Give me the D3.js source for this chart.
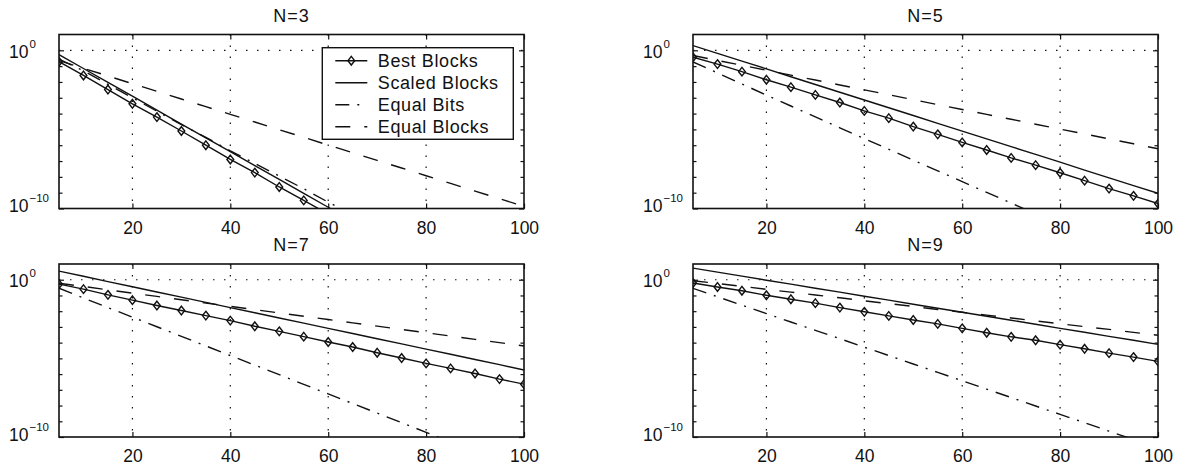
<!DOCTYPE html>
<html>
<head>
<meta charset="utf-8">
<script src="https://cdn.jsdelivr.net/npm/d3@7"></script>
<style>
  body { margin: 0; background: #fff; }
  text { font-family: "Liberation Sans", Arial, sans-serif; fill: #111; }
</style>
</head>
<body>
<svg id="chart" width="1188" height="470"></svg>
<script>
// x positions of the samples (block length)
var xValues = [5, 10, 15, 20, 25, 30, 35, 40, 45, 50, 55, 60, 65, 70, 75, 80, 85, 90, 95, 100];
var panelTitles = ["N=3", "N=5", "N=7", "N=9"];
var seriesNames = ["Best Blocks", "Scaled Blocks", "Equal Bits", "Equal Blocks"];

// values are log10 of the plotted quantity
var bestBlocks = [
  [-0.72, -1.59, -2.48, -3.38, -4.22, -5.10, -6.00, -6.90, -7.73, -8.64, -9.49, -10.35],
  [-0.44, -0.87, -1.35, -1.86, -2.33, -2.82, -3.30, -3.83, -4.29, -4.82, -5.31, -5.82, -6.30, -6.80, -7.26, -7.74, -8.24, -8.74, -9.20, -9.69],
  [-0.28, -0.60, -0.96, -1.30, -1.64, -1.96, -2.28, -2.60, -2.96, -3.28, -3.62, -3.96, -4.28, -4.64, -4.98, -5.32, -5.64, -5.96, -6.32, -6.64],
  [-0.21, -0.46, -0.70, -0.99, -1.24, -1.49, -1.77, -2.04, -2.30, -2.56, -2.81, -3.09, -3.37, -3.63, -3.85, -4.13, -4.39, -4.67, -4.92, -5.19]
];
var scaledBlocks = [
  [-0.27, -1.15, -2.02, -2.90, -3.78, -4.66, -5.53, -6.41, -7.29, -8.16, -9.04, -9.92, -10.79],
  [0.30, -0.19, -0.68, -1.17, -1.67, -2.16, -2.65, -3.14, -3.63, -4.12, -4.62, -5.11, -5.60, -6.09, -6.58, -7.07, -7.57, -8.06, -8.55, -9.04],
  [0.55, 0.22, -0.12, -0.45, -0.78, -1.11, -1.44, -1.77, -2.10, -2.43, -2.76, -3.09, -3.42, -3.75, -4.08, -4.41, -4.74, -5.07, -5.40, -5.74],
  [0.74, 0.48, 0.23, -0.03, -0.28, -0.54, -0.79, -1.05, -1.30, -1.56, -1.81, -2.07, -2.32, -2.58, -2.83, -3.09, -3.34, -3.60, -3.85, -4.11]
];
var equalBits = [
  [-0.55, -1.30, -2.15, -3.00, -3.85, -4.70, -5.50, -6.35, -7.15, -7.95, -8.75, -9.60, -10.40],
  [-0.73, -1.43, -2.13, -2.83, -3.52, -4.21, -4.90, -5.58, -6.26, -6.94, -7.62, -8.30, -8.98, -9.66, -10.34],
  [-0.54, -1.16, -1.77, -2.38, -2.99, -3.60, -4.21, -4.82, -5.43, -6.04, -6.65, -7.26, -7.87, -8.48, -9.09, -9.70, -10.31],
  [-0.55, -1.08, -1.62, -2.15, -2.69, -3.22, -3.75, -4.29, -4.82, -5.36, -5.89, -6.42, -6.96, -7.49, -8.03, -8.56, -9.09, -9.63, -10.16]
];
var equalBlocks = [
  [-0.65, -1.14, -1.62, -2.11, -2.59, -3.08, -3.56, -4.05, -4.53, -5.02, -5.50, -5.99, -6.47, -6.96, -7.44, -7.93, -8.41, -8.90, -9.38, -9.87],
  [-0.33, -0.64, -0.95, -1.26, -1.57, -1.88, -2.19, -2.50, -2.81, -3.12, -3.43, -3.74, -4.05, -4.36, -4.67, -4.98, -5.29, -5.60, -5.91, -6.22],
  [-0.22, -0.43, -0.64, -0.85, -1.06, -1.27, -1.48, -1.69, -1.90, -2.11, -2.32, -2.53, -2.74, -2.95, -3.16, -3.37, -3.58, -3.79, -4.00, -4.21],
  [-0.06, -0.24, -0.42, -0.61, -0.79, -0.97, -1.15, -1.34, -1.52, -1.70, -1.89, -2.07, -2.25, -2.43, -2.62, -2.80, -2.98, -3.16, -3.35, -3.53]
];

var xTicks = [20, 40, 60, 80, 100];
var yMajorTicks = [1e-10, 1e0];
var yMajorExp = ["\u221210", "0"];
var yMinorExp = [-9, -8, -7, -6, -5, -4, -3, -2, -1];

var panels = [
  {left: 59, top: 34.5, width: 465, height: 174},
  {left: 693, top: 34.5, width: 465, height: 174},
  {left: 59, top: 264, width: 465, height: 173},
  {left: 693, top: 264, width: 465, height: 173}
];

var ink = "#111";
var styles = [
  {dash: null, marker: true},
  {dash: null, marker: false},
  {dash: "14,8,2,8", marker: false},
  {dash: "15,14", marker: false}
];
var diamond = "M0,-4.3L3.4,0L0,4.3L-3.4,0Z";

var svg = d3.select("#chart");

function drawPanel(i) {
    var p = panels[i];
    var g = svg.append("g")
            .attr("transform", "translate(" + p.left + "," + p.top + ")");

    var x = d3.scaleLinear().domain([5, 100]).range([0, p.width]);
    var y = d3.scaleLog().domain([1e-10, 1e1]).range([p.height, 0]);

    // dotted grid
    g.selectAll(".vgrid")
            .data(xTicks.filter(function (d) { return d < 100; }))
            .enter().append("line")
            .attr("x1", function (d) { return x(d); })
            .attr("x2", function (d) { return x(d); })
            .attr("y1", 0).attr("y2", p.height)
            .attr("stroke", ink).attr("stroke-width", 1.2)
            .attr("stroke-dasharray", "1.5,9.5");
    g.append("line")
            .attr("x1", 0).attr("x2", p.width)
            .attr("y1", y(1)).attr("y2", y(1))
            .attr("stroke", ink).attr("stroke-width", 1.2)
            .attr("stroke-dasharray", "1.5,9.5");

    // ticks (inward)
    g.append("g").attr("transform", "translate(0," + p.height + ")")
            .call(d3.axisBottom(x).tickValues(xTicks).tickSize(-5).tickPadding(13))
            .call(function (a) {
                a.select(".domain").remove();
                a.selectAll("text").style("font-size", "17.5px")
                        .style("font-family", "Liberation Sans, Arial, sans-serif")
                        .attr("fill", ink);
                a.selectAll("line").attr("stroke", ink).attr("stroke-width", 1.2);
            });
    g.append("g")
            .call(d3.axisTop(x).tickValues(xTicks).tickSize(-5).tickFormat(""))
            .call(function (a) {
                a.select(".domain").remove();
                a.selectAll("line").attr("stroke", ink).attr("stroke-width", 1.2);
            });

    var minor = yMinorExp.map(function (e) { return Math.pow(10, e); });
    [d3.axisLeft, d3.axisRight].forEach(function (ax, k) {
        var shift = k === 0 ? 0 : p.width;
        g.append("g").attr("transform", "translate(" + shift + ",0)")
                .call(ax(y).tickValues(minor).tickSize(-3.5).tickFormat(""))
                .call(function (a) { a.select(".domain").remove(); a.selectAll("line").attr("stroke", ink).attr("stroke-width", 1.2); });
        g.append("g").attr("transform", "translate(" + shift + ",0)")
                .call(ax(y).tickValues(yMajorTicks).tickSize(-5).tickFormat(""))
                .call(function (a) { a.select(".domain").remove(); a.selectAll("line").attr("stroke", ink).attr("stroke-width", 1.2); });
    });

    // y labels 10^e
    yMajorTicks.forEach(function (t, k) {
        var base = y(t) + (t === 1e-10 ? 3.5 : 7.5);
        var lab = g.append("text")
                .attr("x", -50).attr("y", base)
                .style("font-size", "17.5px");
        lab.append("tspan").text("10");
        lab.append("tspan").attr("dx", 1).attr("dy", -10)
                .style("font-size", "11.5px").text(yMajorExp[k]);
    });

    // title
    g.append("text")
            .attr("x", p.width / 2).attr("y", -12.8)
            .attr("text-anchor", "middle")
            .style("font-size", "18px").style("letter-spacing", "1px")
            .text(panelTitles[i]);

    // clip region
    g.append("clipPath").attr("id", "clip" + i)
            .append("rect").attr("width", p.width).attr("height", p.height);

    var line = d3.line()
            .x(function (d) { return x(d[0]); })
            .y(function (d) { return y(Math.pow(10, d[1])); });

    var series = [bestBlocks[i], scaledBlocks[i], equalBits[i], equalBlocks[i]];
    var plot = g.append("g").attr("clip-path", "url(#clip" + i + ")");
    series.forEach(function (vals, s) {
        var pts = vals.map(function (v, j) { return [xValues[j], v]; });
        plot.append("path")
                .attr("d", line(pts))
                .attr("fill", "none")
                .attr("stroke", ink)
                .attr("stroke-width", 1.4)
                .attr("stroke-dasharray", styles[s].dash);
        if (styles[s].marker) {
            plot.selectAll(".mk" + s)
                    .data(pts.filter(function (d) { return d[1] >= -10; }))
                    .enter().append("path")
                    .attr("d", diamond)
                    .attr("transform", function (d) {
                        return "translate(" + x(d[0]) + "," + y(Math.pow(10, d[1])) + ")";
                    })
                    .attr("fill", "none")
                    .attr("stroke", ink)
                    .attr("stroke-width", 1.4);
        }
    });

    // frame
    g.append("rect")
            .attr("width", p.width).attr("height", p.height)
            .attr("fill", "none").attr("stroke", ink).attr("stroke-width", 1.6);

    return g;
}

var first = null;
for (var i = 0; i < panels.length; i++) {
    var g = drawPanel(i);
    if (i === 0) first = g;
}

// legend in the first panel
var lg = first.append("g").attr("transform", "translate(" + (322.3 - panels[0].left) + "," + (47.7 - panels[0].top) + ")");
lg.append("rect").attr("width", 191).attr("height", 91.6)
        .attr("fill", "#fff").attr("stroke", ink).attr("stroke-width", 1.4);
seriesNames.forEach(function (name, s) {
    var cy = 13 + s * 22;
    lg.append("line")
            .attr("x1", 13).attr("x2", 45).attr("y1", cy).attr("y2", cy)
            .attr("stroke", ink).attr("stroke-width", 1.4)
            .attr("stroke-dasharray", styles[s].dash);
    if (styles[s].marker) {
        lg.append("path").attr("d", diamond)
                .attr("transform", "translate(29," + cy + ")")
                .attr("fill", "none").attr("stroke", ink).attr("stroke-width", 1.4);
    }
    lg.append("text")
            .attr("x", 55.5).attr("y", cy + 6.2)
            .style("font-size", "18px").style("letter-spacing", "0.6px")
            .text(name);
});
</script>
</body>
</html>
